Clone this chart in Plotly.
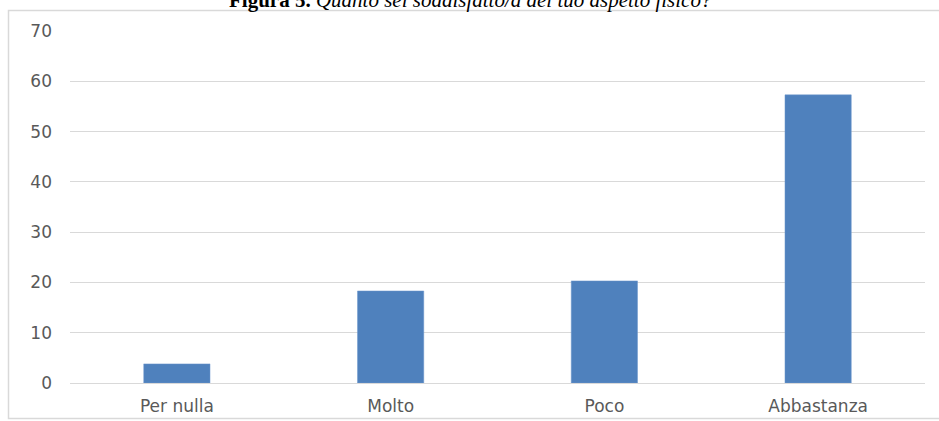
import plotly.graph_objects as go

categories = ["Per nulla", "Molto", "Poco", "Abbastanza"]
values = [3.8, 18.3, 20.3, 57.3]
y_ticks = [0, 10, 20, 30, 40, 50, 60, 70]

W, H = 939, 421
L, R, T, B = 70, 14, 31, 38
pw, ph = W - L - R, H - T - B

def px_x(p):
    return (p - L) / pw

def px_y(p):
    return (H - B - p) / ph

fig = go.Figure(go.Bar(
    x=categories, y=values,
    marker=dict(color="#4f81bd", line=dict(color="#6d97cc", width=0.5)),
    width=0.31,
))

tick_font = dict(family="DejaVu Sans, sans-serif", size=17, color="#595959")

fig.update_layout(
    width=W, height=H,
    margin=dict(l=L, r=R, t=T, b=B, autoexpand=False),
    paper_bgcolor="white", plot_bgcolor="white",
    showlegend=False,
    font=dict(family="DejaVu Sans, sans-serif", color="#595959", size=14),
    xaxis=dict(showgrid=False, showline=True, linecolor="#d9d9d9", linewidth=1,
               ticks="", tickfont=tick_font, ticklabelstandoff=8, automargin=False),
    yaxis=dict(range=[0, 70], tickvals=y_ticks, showgrid=True, gridcolor="#d9d9d9",
               gridwidth=1, zeroline=False, showline=False, ticks="",
               tickfont=tick_font, ticklabelstandoff=17, automargin=False),
    shapes=[dict(type="rect", xref="paper", yref="paper",
                 x0=px_x(8.5), x1=px_x(960), y0=px_y(418.5), y1=px_y(10.5),
                 line=dict(color="#d9d9d9", width=1.5), fillcolor="rgba(0,0,0,0)", layer="below")],
    annotations=[dict(xref="paper", yref="paper", x=px_x(470), y=px_y(14),
                      xanchor="center", yanchor="bottom", showarrow=False,
                      text="<b>Figura 5.</b> <i>Quanto sei soddisfatto/a del tuo aspetto fisico?</i>",
                      font=dict(family="Liberation Serif, Times New Roman, serif", size=21, color="black"))],
)

fig.write_html("out.html", config={"displayModeBar": False},
               post_script="document.body.style.margin='0';")
